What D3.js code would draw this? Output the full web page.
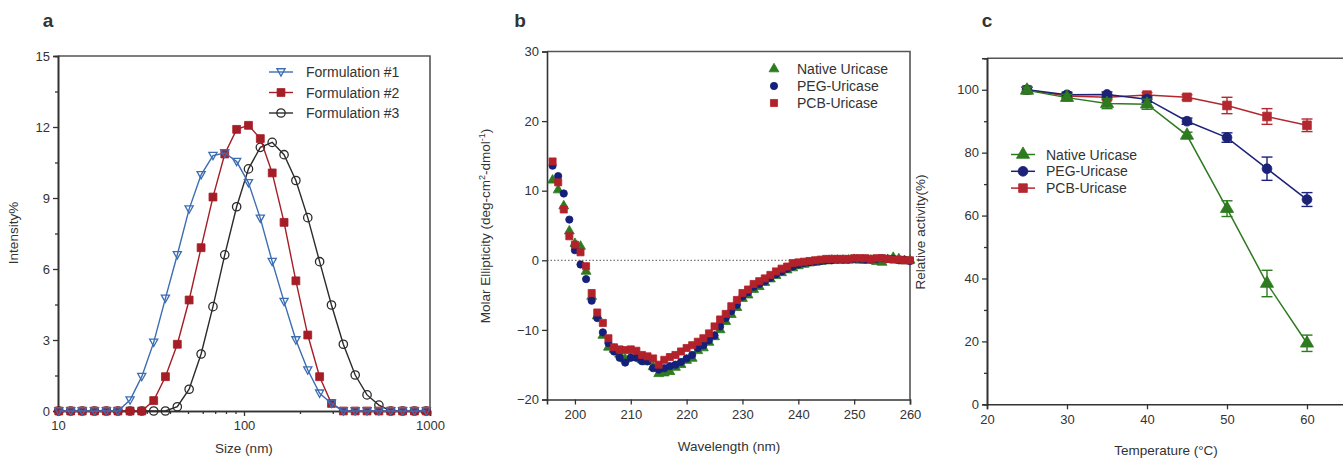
<!DOCTYPE html>
<html lang="en">

<head>
    <meta charset="UTF-8">
    <title>Uricase formulations</title>
    <script src="https://d3js.org/d3.v7.min.js"></script>
    <style>
        body { margin: 0; background: #fff; }
        text { font-family: "Liberation Sans", Arial, sans-serif; fill: #333; }
    </style>
</head>

<body>
    <script>
        // ---- panel a : size distribution ----
        var sizeBins = [10.1, 11.7, 13.5, 15.7, 18.2, 21.0, 24.4, 28.2, 32.7, 37.8, 43.8, 50.7, 58.8, 68.1, 78.8, 91.3,
            105.7, 122.4, 141.8, 164.2, 190.1, 220.2, 255.0, 295.3, 342.0, 396.1, 458.7, 531.2, 615.1, 712.4, 825.0, 955.4];
        var form1 = [0, 0, 0, 0, 0, 0, 0.46, 1.45, 2.9, 4.76, 6.6, 8.53, 9.98, 10.79, 10.9, 10.54,
            9.64, 8.14, 6.31, 4.62, 3.0, 1.73, 0.75, 0.32, 0, 0, 0, 0, 0, 0, 0, 0];
        var form2 = [0, 0, 0, 0, 0, 0, 0, 0, 0.44, 1.45, 2.82, 4.69, 6.9, 9.04, 10.86, 11.9,
            12.07, 11.51, 10.06, 7.97, 5.5, 3.21, 1.45, 0.32, 0, 0, 0, 0, 0, 0, 0, 0];
        var form3 = [0, 0, 0, 0, 0, 0, 0, 0, 0, 0, 0.18, 0.92, 2.41, 4.41, 6.6, 8.63,
            10.23, 11.14, 11.35, 10.83, 9.74, 8.17, 6.31, 4.48, 2.82, 1.52, 0.68, 0.25, 0, 0, 0, 0];
        var formNames = ["Formulation #1", "Formulation #2", "Formulation #3"];
        var sizeTicks = [10, 100, 1000];
        var intensityTicks = [0, 3, 6, 9, 12, 15];

        // ---- panel b : CD spectra ----
        var wavelength = [196, 197, 198, 199, 200, 201, 202, 203, 204, 205, 206, 207, 208, 209, 210, 211, 212, 213, 214,
            215, 216, 217, 218, 219, 220, 221, 222, 223, 224, 225, 226, 227, 228, 229, 230, 231, 232, 233, 234,
            235, 236, 237, 238, 239, 240, 241, 242, 243, 244, 245, 246, 247, 248, 249, 250, 251, 252, 253, 254,
            255, 256, 257, 258, 259, 260];
        var cdNative = [11.5, 10.1, 7.8, 4.2, 2.4, 2.0, -1.6, -5.2, -8.0, -10.8, -12.5, -12.8, -13.5, -14.2, -13.9, -14.0, -14.3, -14.6, -15.3,
            -16.3, -16.2, -16.0, -15.4, -15.0, -14.4, -14.1, -13.0, -12.6, -11.8, -11.0, -10.0, -8.8, -7.8, -6.8, -5.5, -5.0, -4.2, -3.8, -3.2,
            -2.7, -2.2, -1.8, -1.4, -1.1, -0.8, -0.6, -0.4, -0.3, -0.2, -0.1, 0, 0, 0, 0, 0.1, 0, 0, 0, -0.2,
            -0.3, 0.1, 0.4, 0.2, -0.1, 0];
        var cdPEG = [13.6, 12.1, 9.6, 5.85, 1.45, -0.6, -2.7, -5.8, -8.3, -10.35, -11.9, -13.1, -14.0, -14.7, -14.0, -14.0, -14.5, -14.5, -15.5,
            -15.7, -15.5, -15.2, -15.0, -14.6, -14.1, -13.6, -12.6, -12.2, -11.5, -10.8, -9.5, -8.3, -7.3, -6.4, -5.2, -4.6, -3.8, -3.4, -3.0,
            -2.5, -2.0, -1.6, -1.2, -0.9, -0.6, -0.4, -0.3, -0.2, -0.1, 0, 0, 0.1, 0.1, 0.1, 0.2, 0.2, 0.1, 0.1, 0.2,
            0.3, 0.2, 0.2, 0, 0.1, -0.1];
        var cdPCB = [14.2, 11.2, 7.3, 3.45, 2.25, 1.15, -0.85, -4.7, -7.5, -9.0, -11.2, -12.5, -12.8, -12.9, -12.8, -13.0, -13.6, -13.8, -14.1,
            -15.0, -14.3, -13.9, -13.6, -13.1, -12.6, -12.2, -11.7, -11.2, -10.5, -9.5, -8.5, -7.7, -6.6, -5.7, -4.7, -4.2, -3.4, -3.0, -2.6,
            -2.1, -1.6, -1.2, -0.9, -0.4, -0.3, -0.2, -0.1, 0, 0.1, 0.2, 0.2, 0.2, 0.2, 0.2, 0.3, 0.3, 0.3, 0.2, 0.3,
            0.3, 0.2, 0.1, 0.1, 0, 0];
        var wavelengthTicks = [200, 210, 220, 230, 240, 250, 260];
        var ellipticityTicks = [-20, -10, 0, 10, 20, 30];

        // ---- panel c : thermal stability ----
        var temperature = [25, 30, 35, 40, 45, 50, 55, 60];
        var actNative = [99.8, 97.5, 95.6, 95.4, 85.5, 62.2, 38.4, 19.4];
        var errNative = [1, 1, 1.6, 1.6, 1, 2.5, 4.2, 2.6];
        var actPEG = [100, 98.4, 98.5, 97, 90, 84.8, 74.9, 65.1];
        var errPEG = [0.8, 0.8, 0.8, 1, 1, 1.5, 3.7, 2.2];
        var actPCB = [100, 98, 97.6, 98.3, 97.6, 95, 91.5, 88.7];
        var errPCB = [0.8, 0.8, 0.8, 0.8, 0.8, 2.6, 2.5, 2];
        var uricaseNames = ["Native Uricase", "PEG-Uricase", "PCB-Uricase"];
        var temperatureTicks = [20, 30, 40, 50, 60];
        var activityTicks = [0, 20, 40, 60, 80, 100];

        var svg = d3.select("body")
            .append("svg")
            .attr("width", 1343)
            .attr("height", 463);

        var axisColor = "#333";

        function styleAxis(g) {
            g.selectAll("path").attr("stroke", axisColor).attr("stroke-width", 1.6);
            g.selectAll("line").attr("stroke", axisColor).attr("stroke-width", 1.3);
            g.selectAll("text").attr("font-size", 13).attr("fill", "#444");
        }

        function frame(x0, x1, y0, y1) {
            svg.append("path")
                .attr("d", "M" + x0 + "," + y1 + "H" + x1 + "V" + y0)
                .attr("fill", "none")
                .attr("stroke", "#555")
                .attr("stroke-width", 1.6);
        }

        function panelLetter(t, x) {
            svg.append("text").attr("x", x).attr("y", 27)
                .attr("font-size", 19).attr("font-weight", "bold").attr("fill", "#000")
                .attr("text-anchor", "middle").text(t);
        }

        function yLabel(x, y, txt) {
            return svg.append("text")
                .attr("transform", "translate(" + x + "," + y + ") rotate(-90)")
                .attr("text-anchor", "middle")
                .attr("font-size", 13.5)
                .text(txt);
        }

        function marker(sel, shape, size, color, filled) {
            var sym = d3.symbol().type(shape).size(size);
            return sel.attr("d", sym)
                .attr("fill", filled ? color : "none")
                .attr("stroke", color)
                .attr("stroke-width", filled ? 0.8 : 1.3);
        }

        var triDown = {
            draw: function (ctx, size) {
                var s = Math.sqrt(size) * 1.1;
                ctx.moveTo(-s / 2, -s * 0.4);
                ctx.lineTo(s / 2, -s * 0.4);
                ctx.lineTo(0, s * 0.5);
                ctx.closePath();
            }
        };

        // ================= panel a =================
        panelLetter("a", 48);
        var xa = d3.scaleLog().domain([10, 1000]).range([58, 430]);
        var ya = d3.scaleLinear().domain([0, 15]).range([411, 56]);

        frame(58, 430, 411, 56);

        var minorSizes = [];
        [10, 100].forEach(function (d) {
            for (var k = 2; k < 10; k++) minorSizes.push(d * k);
        });
        svg.append("g").attr("transform", "translate(0,411)")
            .call(d3.axisBottom(xa).tickValues(minorSizes).tickSize(3).tickFormat(""))
            .call(styleAxis);
        svg.append("g").attr("transform", "translate(0,411)")
            .call(d3.axisBottom(xa).tickValues(sizeTicks).tickSize(5).tickPadding(5).tickFormat(d3.format("d")))
            .call(styleAxis);
        svg.append("g").attr("transform", "translate(58,0)")
            .call(d3.axisLeft(ya).tickValues(d3.range(1.5, 15, 3)).tickSize(3).tickFormat(""))
            .call(styleAxis);
        svg.append("g").attr("transform", "translate(58,0)")
            .call(d3.axisLeft(ya).tickValues(intensityTicks).tickSize(5).tickPadding(3))
            .call(styleAxis);

        yLabel(18, 233, "Intensity%");
        svg.append("text").attr("x", 244).attr("y", 453).attr("text-anchor", "middle")
            .attr("font-size", 13.5).text("Size (nm)");

        var seriesA = [
            { name: formNames[2], vals: form3, color: "#2b2b2b", shape: d3.symbolCircle, size: 55, filled: false },
            { name: formNames[1], vals: form2, color: "#a51d26", shape: d3.symbolSquare, size: 62, filled: true },
            { name: formNames[0], vals: form1, color: "#3b6db3", shape: triDown, size: 55, filled: false }
        ];
        var lineA = d3.line().x(function (d, i) { return xa(sizeBins[i]); }).y(function (d) { return ya(d); });

        seriesA.forEach(function (s) {
            svg.append("path").datum(s.vals)
                .attr("d", lineA)
                .attr("fill", "none")
                .attr("stroke", s.color)
                .attr("stroke-width", 1.4);
            svg.append("g").selectAll("path").data(s.vals).join("path")
                .attr("transform", function (d, i) { return "translate(" + xa(sizeBins[i]) + "," + ya(d) + ")"; })
                .call(marker, s.shape, s.size, s.color, s.filled);
        });

        // legend a
        var legA = svg.append("g");
        seriesA.slice().reverse().forEach(function (s, i) {
            var y = 72 + i * 20.5;
            legA.append("line").attr("x1", 269).attr("x2", 293).attr("y1", y).attr("y2", y)
                .attr("stroke", s.color).attr("stroke-width", 1.4);
            legA.append("path").attr("transform", "translate(281," + y + ")")
                .call(marker, s.shape, s.size, s.color, s.filled);
            legA.append("text").attr("x", 306).attr("y", y + 5).attr("font-size", 14).text(s.name);
        });

        // ================= panel b =================
        panelLetter("b", 520);
        var xb = d3.scaleLinear().domain([195, 260]).range([547, 910]);
        var yb = d3.scaleLinear().domain([-20, 30]).range([399.5, 51.5]);

        frame(547, 910, 399.5, 51.5);

        svg.append("line")
            .attr("x1", xb(195)).attr("x2", xb(260))
            .attr("y1", yb(0)).attr("y2", yb(0))
            .attr("stroke", "#777").attr("stroke-width", 1.2)
            .attr("stroke-dasharray", "1.5,2");

        svg.append("g").attr("transform", "translate(0,399.5)")
            .call(d3.axisBottom(xb).tickValues(wavelengthTicks).tickSize(5).tickPadding(5))
            .call(styleAxis);
        svg.append("g").attr("transform", "translate(547,0)")
            .call(d3.axisLeft(yb).tickValues(ellipticityTicks).tickSize(5).tickPadding(3))
            .call(styleAxis);

        var lb = yLabel(490, 226, "");
        lb.append("tspan").text("Molar Ellipticity (deg-cm");
        lb.append("tspan").attr("baseline-shift", "super").attr("font-size", 9).text("2");
        lb.append("tspan").text("-dmol");
        lb.append("tspan").attr("baseline-shift", "super").attr("font-size", 9).text("-1");
        lb.append("tspan").text(")");
        svg.append("text").attr("x", 729).attr("y", 451).attr("text-anchor", "middle")
            .attr("font-size", 13.5).text("Wavelength (nm)");

        var seriesB = [
            { name: uricaseNames[0], vals: cdNative, color: "#2d7a1f", shape: d3.symbolTriangle, size: 42 },
            { name: uricaseNames[1], vals: cdPEG, color: "#14207a", shape: d3.symbolCircle, size: 42 },
            { name: uricaseNames[2], vals: cdPCB, color: "#b3222b", shape: d3.symbolSquare, size: 50 }
        ];
        seriesB.forEach(function (s) {
            svg.append("g").selectAll("path").data(s.vals).join("path")
                .attr("transform", function (d, i) { return "translate(" + xb(wavelength[i]) + "," + yb(d) + ")"; })
                .call(marker, s.shape, s.size, s.color, true);
        });

        seriesB.forEach(function (s, i) {
            var y = 69 + i * 17;
            svg.append("path").attr("transform", "translate(774," + y + ")")
                .call(marker, s.shape, s.size, s.color, true);
            svg.append("text").attr("x", 797).attr("y", y + 5).attr("font-size", 14).text(s.name);
        });

        // ================= panel c =================
        panelLetter("c", 987);
        var xc = d3.scaleLinear().domain([20, 65]).range([987, 1347]);
        var yc = d3.scaleLinear().domain([0, 110]).range([404.3, 58.3]);

        frame(987, 1347, 404.3, 58.3);

        svg.append("g").attr("transform", "translate(0,404.3)")
            .call(d3.axisBottom(xc).tickValues(temperatureTicks).tickSize(5).tickPadding(5))
            .call(styleAxis);
        svg.append("g").attr("transform", "translate(987,0)")
            .call(d3.axisLeft(yc).tickValues(d3.range(10, 110, 20)).tickSize(3).tickFormat(""))
            .call(styleAxis);
        svg.append("g").attr("transform", "translate(987,0)")
            .call(d3.axisLeft(yc).tickValues(activityTicks).tickSize(5).tickPadding(3))
            .call(styleAxis);

        yLabel(925, 232, "Relative activity(%)");
        svg.append("text").attr("x", 1166).attr("y", 455).attr("text-anchor", "middle")
            .attr("font-size", 13.5).text("Temperature (°C)");

        var seriesC = [
            { name: uricaseNames[2], vals: actPCB, err: errPCB, color: "#b3282f", shape: d3.symbolSquare, size: 75 },
            { name: uricaseNames[1], vals: actPEG, err: errPEG, color: "#1b2277", shape: d3.symbolCircle, size: 75 },
            { name: uricaseNames[0], vals: actNative, err: errNative, color: "#2d7a1f", shape: d3.symbolTriangle, size: 75 }
        ];
        var lineC = d3.line().x(function (d, i) { return xc(temperature[i]); }).y(function (d) { return yc(d); });

        seriesC.forEach(function (s) {
            svg.append("path").datum(s.vals)
                .attr("d", lineC)
                .attr("fill", "none")
                .attr("stroke", s.color)
                .attr("stroke-width", 1.5);
            var eb = svg.append("g").attr("stroke", s.color).attr("stroke-width", 1.4);
            s.vals.forEach(function (v, i) {
                var x = xc(temperature[i]);
                var lo = yc(v - s.err[i]), hi = yc(v + s.err[i]);
                eb.append("line").attr("x1", x).attr("x2", x).attr("y1", lo).attr("y2", hi);
                eb.append("line").attr("x1", x - 5.5).attr("x2", x + 5.5).attr("y1", lo).attr("y2", lo);
                eb.append("line").attr("x1", x - 5.5).attr("x2", x + 5.5).attr("y1", hi).attr("y2", hi);
            });
            svg.append("g").selectAll("path").data(s.vals).join("path")
                .attr("transform", function (d, i) { return "translate(" + xc(temperature[i]) + "," + yc(d) + ")"; })
                .call(marker, s.shape, s.size, s.color, true);
        });

        seriesC.slice().reverse().forEach(function (s, i) {
            var y = 154.5 + i * 16.8;
            svg.append("line").attr("x1", 1011).attr("x2", 1035).attr("y1", y).attr("y2", y)
                .attr("stroke", s.color).attr("stroke-width", 1.5);
            svg.append("path").attr("transform", "translate(1023," + y + ")")
                .call(marker, s.shape, s.size, s.color, true);
            svg.append("text").attr("x", 1046).attr("y", y + 5).attr("font-size", 14).text(s.name);
        });
    </script>
</body>

</html>
